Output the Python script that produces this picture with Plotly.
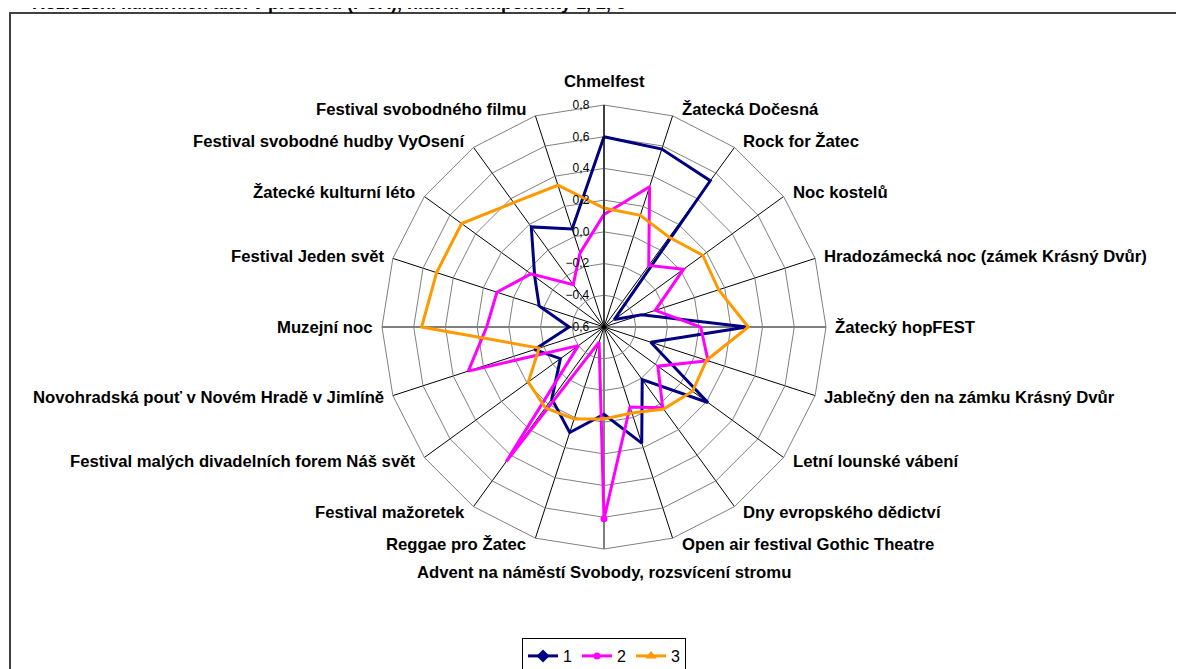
import math
import plotly.graph_objects as go

categories = [
    "Chmelfest",
    "Žatecká Dočesná",
    "Rock for Žatec",
    "Noc kostelů",
    "Hradozámecká noc (zámek Krásný Dvůr)",
    "Žatecký hopFEST",
    "Jablečný den na zámku Krásný Dvůr",
    "Letní lounské vábení",
    "Dny evropského dědictví",
    "Open air festival Gothic Theatre",
    "Advent na náměstí Svobody, rozsvícení stromu",
    "Reggae pro Žatec",
    "Festival mažoretek",
    "Festival malých divadelních forem Náš svět",
    "Novohradská pouť v Novém Hradě v Jimlíně",
    "Muzejní noc",
    "Festival Jeden svět",
    "Žatecké kulturní léto",
    "Festival svobodné hudby VyOsení",
    "Festival svobodného filmu",
]

series_1 = [0.60, 0.58, 0.54, -0.52, -0.35, 0.30, -0.29, 0.21, -0.19, 0.17,
            -0.05, 0.10, -0.04, -0.26, -0.14, -0.38, -0.17, -0.06, 0.18, 0.05]
series_2 = [0.11, 0.33, -0.12, 0.02, -0.26, 0.01, 0.09, -0.18, 0.03, -0.07,
            0.61, -0.50, 0.45, -0.40, 0.30, 0.14, 0.11, -0.03, -0.27, -0.11]
series_3 = [0.15, 0.14, 0.10, 0.17, 0.16, 0.31, 0.08, 0.09, 0.04, -0.03,
            -0.02, 0.01, 0.03, -0.01, -0.17, 0.55, 0.51, 0.51, 0.37, 0.34]

series_names = ["1", "2", "3"]
title_text = "Rozložení kulturních akcí v prostoru (PCA), hlavní komponenty 1, 2, 3"

# page body has an 8px margin -> figure is drawn 8px right/down of the window corner
OFF = 8
W, H = 1184 - OFF, 669 - OFF
SCX, SCY, R = 604, 327, 222          # polar centre / radius in window pixels
cx, cy = SCX - OFF, SCY - OFF


def px(sx):
    return (sx - OFF) / W


def py(sy):
    return 1 - (sy - OFF) / H


def closed(v):
    return v + v[:1]


theta = closed(categories)

fig = go.Figure()
fig.add_trace(go.Scatterpolar(
    r=closed(series_1), theta=theta, name=series_names[0], mode="lines+markers",
    line=dict(color="#000080", width=3),
    marker=dict(symbol="diamond", size=10, color="#000080"),
))
fig.add_trace(go.Scatterpolar(
    r=closed(series_2), theta=theta, name=series_names[1], mode="lines+markers",
    line=dict(color="#FF00FF", width=3),
    marker=dict(symbol="circle", size=7, color="#FF00FF"),
))
fig.add_trace(go.Scatterpolar(
    r=closed(series_3), theta=theta, name=series_names[2], mode="lines+markers",
    line=dict(color="#FF9900", width=3),
    marker=dict(symbol="triangle-up", size=10, color="#FF9900"),
))

# category labels placed just outside each vertex of the outer polygon (Excel style)
annotations = []
n = len(categories)
for i, cat in enumerate(categories):
    a = math.radians(360.0 * i / n)
    s, c = math.sin(a), math.cos(a)
    vx, vy = SCX + R * s, SCY - R * c
    if abs(s) < 0.05:
        lx, ly, xa = vx, vy - 23 * c, "center"
    else:
        lx = vx + 7 * (1 if s > 0 else -1)
        ly = vy - 7 * c
        xa = "left" if s > 0 else "right"
    annotations.append(dict(
        text=cat, xref="paper", yref="paper", x=px(lx), y=py(ly),
        xanchor=xa, yanchor="middle", showarrow=False,
        font=dict(size=16.7, color="black", weight="bold"),
    ))

annotations.append(dict(
    text="<b>" + title_text + "</b>", xref="paper", yref="paper",
    x=px(30), y=1.0, xanchor="left", yanchor="bottom", yshift=-7,
    showarrow=False, font=dict(size=18)))

NB = "\u00a0"
fig.update_layout(
    width=W, height=H,
    margin=dict(l=0, r=0, t=0, b=0, autoexpand=False),
    paper_bgcolor="white",
    separators=", ",
    font=dict(family="Liberation Sans, Arial, sans-serif", color="black"),
    polar=dict(
        domain=dict(x=[(cx - R) / W, (cx + R) / W],
                    y=[(H - cy - R) / H, (H - cy + R) / H]),
        bgcolor="white",
        gridshape="linear",
        radialaxis=dict(
            range=[-0.6, 0.8], dtick=0.2, tick0=-0.6, tickformat=".1f",
            angle=90, side="counterclockwise", tickangle=90,
            ticksuffix=NB * 3,
            showline=True, linecolor="black", linewidth=1,
            gridcolor="#808080", gridwidth=1, ticks="",
            tickfont=dict(size=12, color="black"),
            layer="above traces",
        ),
        angularaxis=dict(
            rotation=90, direction="clockwise",
            showticklabels=False,
            showline=True, linecolor="#808080", linewidth=1,
            gridcolor="black", gridwidth=1, ticks="",
        ),
    ),
    showlegend=True,
    legend=dict(
        orientation="h", x=cx / W, xanchor="center",
        y=py(638), yanchor="top",
        bordercolor="black", borderwidth=1, bgcolor="white",
        font=dict(size=16), itemwidth=30, tracegroupgap=0,
    ),
    shapes=[dict(type="rect", xref="paper", yref="paper",
                 x0=px(10), x1=px(1200), y0=-0.05, y1=py(13),
                 line=dict(color="#404040", width=2), layer="below")],
    annotations=annotations,
)

fig.write_html(
    "out.html",
    post_script="document.documentElement.style.overflow='hidden';"
                "document.body.style.overflow='hidden';",
)
